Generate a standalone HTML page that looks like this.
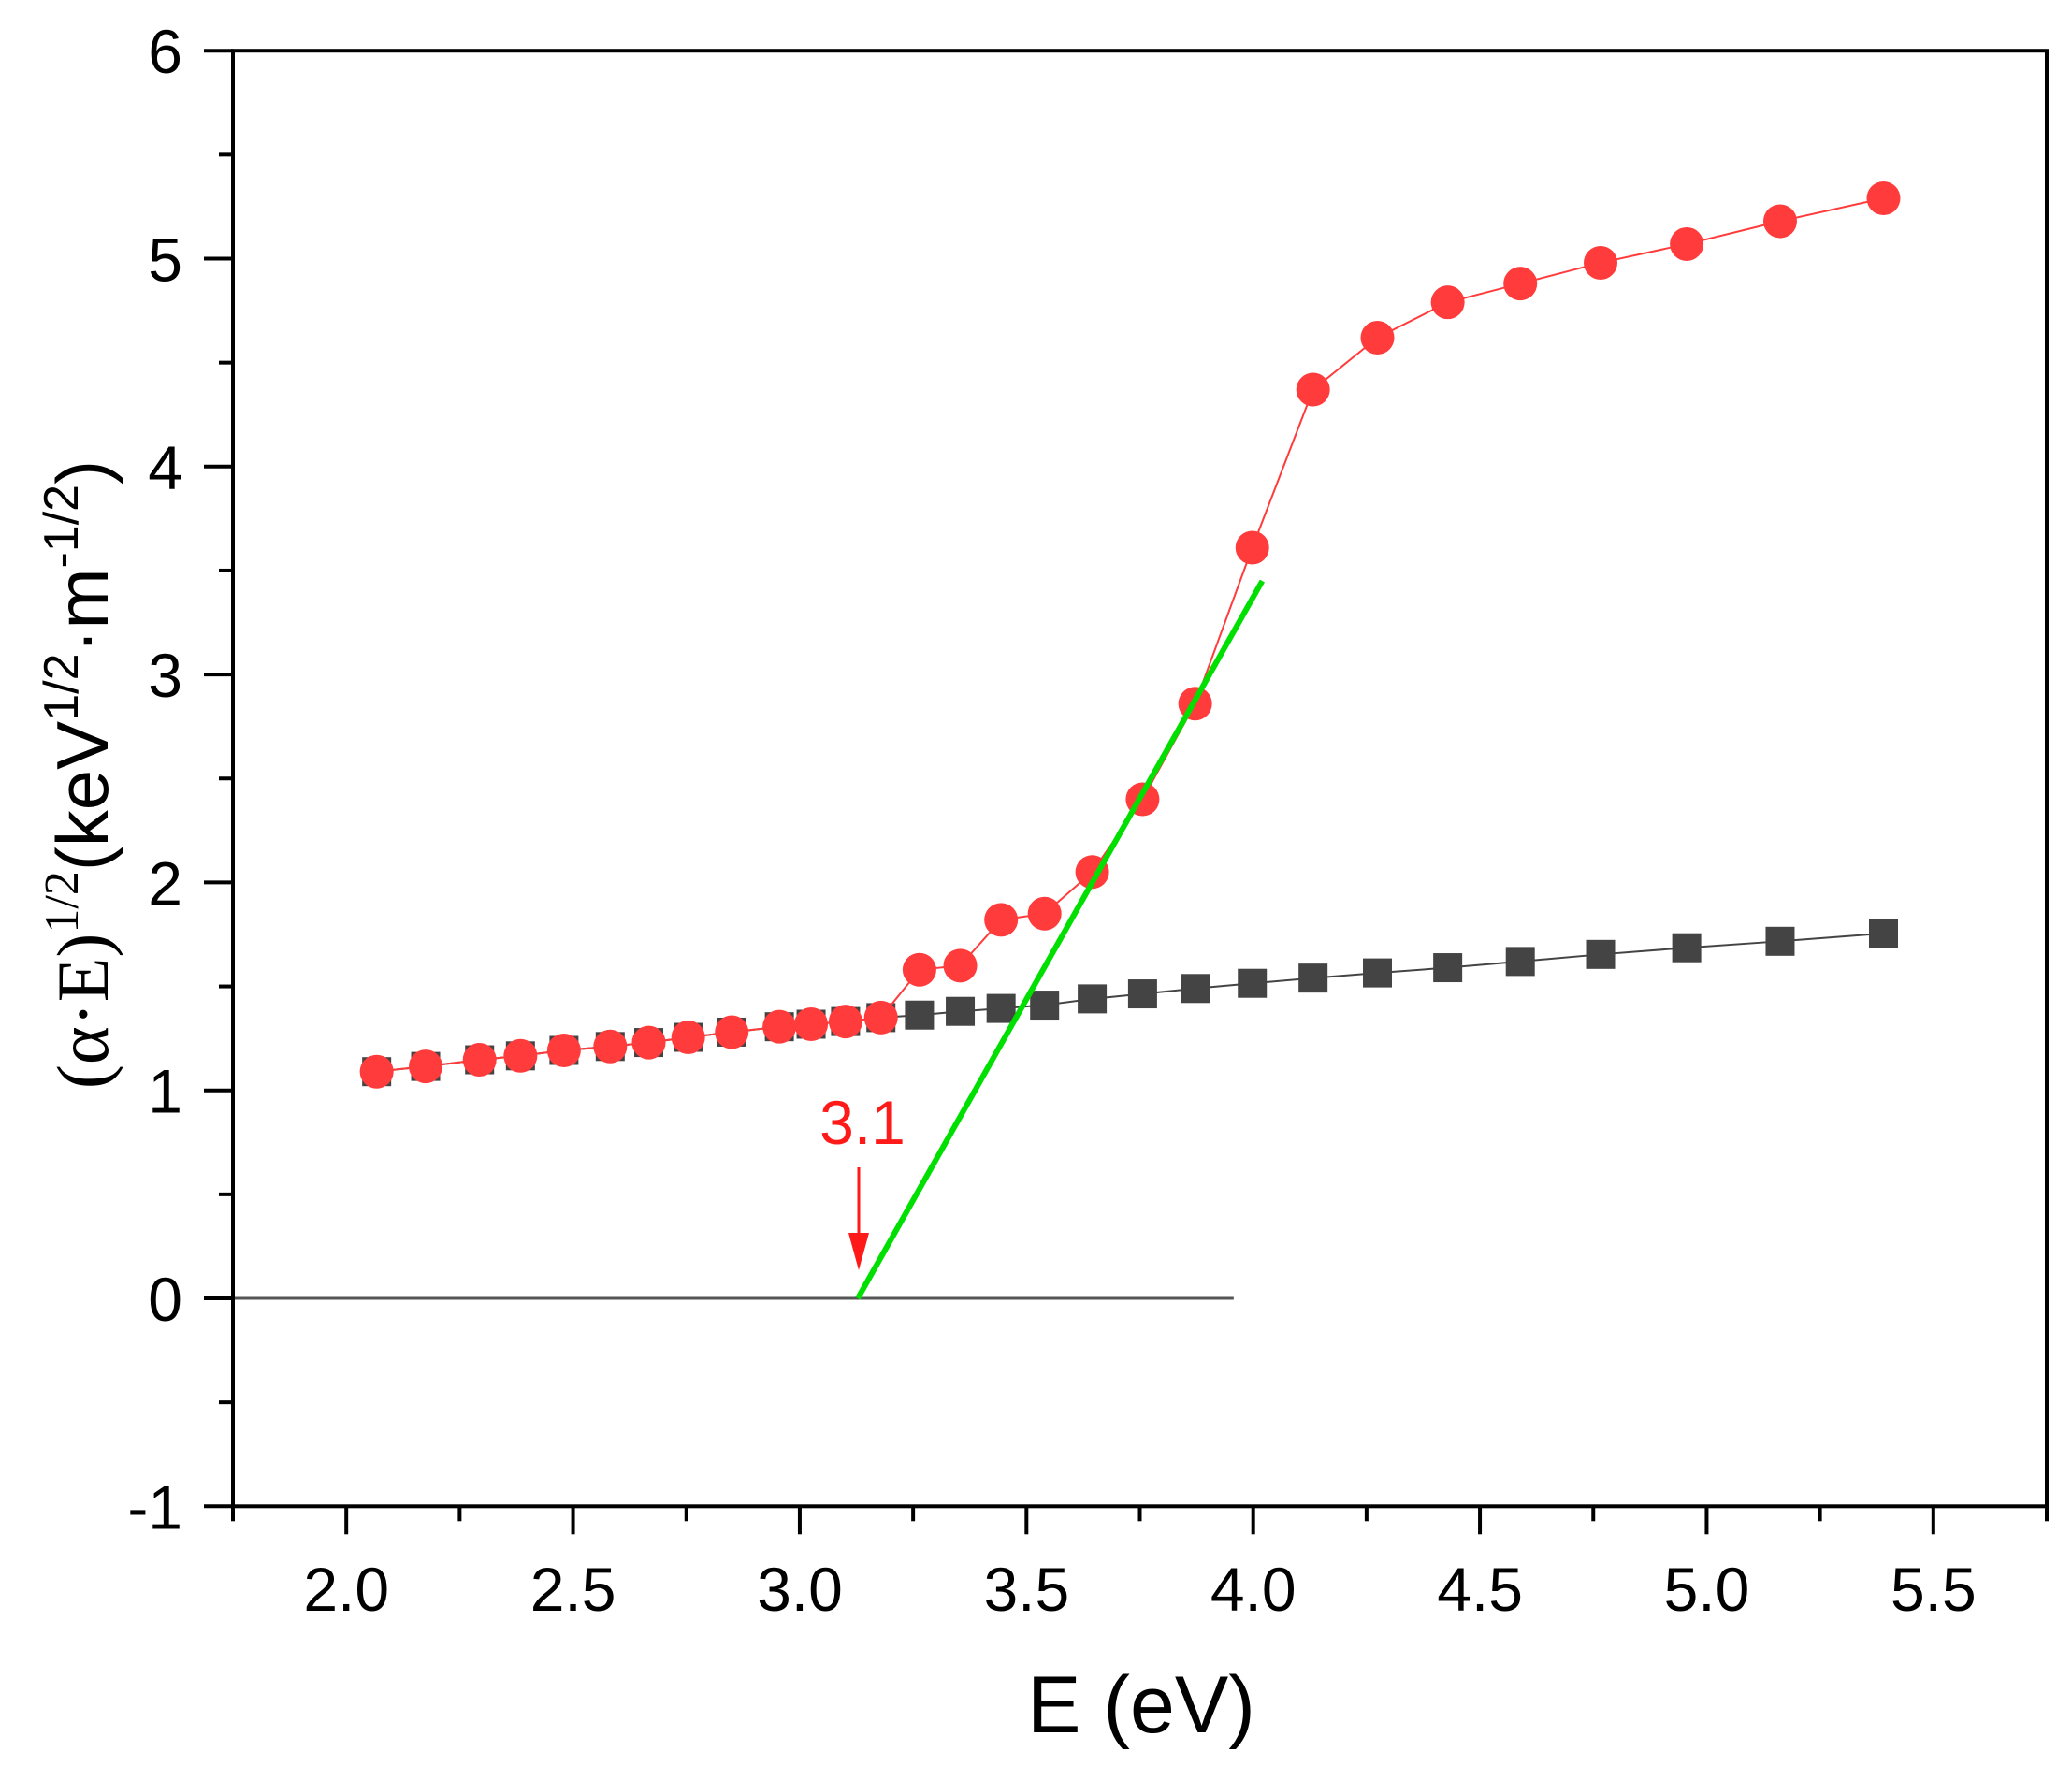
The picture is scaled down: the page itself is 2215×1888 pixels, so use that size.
<!DOCTYPE html>
<html><head><meta charset="utf-8"><style>
html,body{margin:0;padding:0;background:#fff;}
svg{display:block;font-family:"Liberation Sans",Arial,sans-serif;}
</style></head><body>
<svg id="chart" width="2215" height="1888" viewBox="0 0 2215 1888" xmlns="http://www.w3.org/2000/svg">
<g id="grid"></g>
<g id="series"></g>
<g id="axes"></g>
</svg>
<script>
const energyX = [2.067,2.175,2.294,2.384,2.48,2.582,2.667,2.754,2.85,2.955,3.025,3.101,3.179,3.264,3.354,3.444,3.54,3.645,3.756,3.872,3.998,4.132,4.274,4.429,4.589,4.766,4.956,5.162,5.39];
const redValues = [1.09,1.115,1.147,1.166,1.192,1.211,1.23,1.255,1.28,1.306,1.318,1.331,1.35,1.58,1.60,1.82,1.85,2.05,2.40,2.86,3.61,4.37,4.62,4.79,4.88,4.98,5.07,5.18,5.29];
const blackValues = [1.09,1.115,1.147,1.166,1.192,1.211,1.23,1.255,1.28,1.306,1.318,1.331,1.35,1.362,1.38,1.394,1.41,1.44,1.464,1.49,1.515,1.54,1.565,1.59,1.62,1.654,1.686,1.717,1.755];
const fitLine = [[3.128,0],[4.02,3.45]];
const baseline = [[1.75,0],[3.957,0]];
const xTicks = [2.0,2.5,3.0,3.5,4.0,4.5,5.0,5.5];
const yTicks = [-1,0,1,2,3,4,5,6];

const X0=249, X1=2188, XMIN=1.75, XMAX=5.75;
const Y0=1388, YU=222.3;
const sx = v => X0 + (v-XMIN)/(XMAX-XMIN)*(X1-X0);
const sy = v => Y0 - v*YU;
const NS="http://www.w3.org/2000/svg";
function mk(tag, attrs, parent){const e=document.createElementNS(NS,tag);for(const k in attrs)e.setAttribute(k,attrs[k]);parent.appendChild(e);return e;}
const ser=document.getElementById('series'), ax=document.getElementById('axes');

let bl=mk('line',{x1:sx(baseline[0][0]),y1:sy(0),x2:sx(baseline[1][0]),y2:sy(0),stroke:'#555','stroke-width':3},ser);



let bp=mk('polyline',{points:energyX.map((x,i)=>sx(x)+','+sy(blackValues[i])).join(' '),fill:'none',stroke:'#444','stroke-width':2},ser);


energyX.forEach((x,i)=>{
  const r=mk('rect',{x:sx(x)-15.5,y:sy(blackValues[i])-15.5,width:31,height:31,fill:'#444'},ser);
  
  
});
let rp=mk('polyline',{points:energyX.map((x,i)=>sx(x)+','+sy(redValues[i])).join(' '),fill:'none',stroke:'#ff3b3b','stroke-width':2},ser);


energyX.forEach((x,i)=>{
  const c=mk('circle',{cx:sx(x),cy:sy(redValues[i]),r:18,fill:'#ff3b3b'},ser);
  
  
});
let gl=mk('line',{x1:sx(fitLine[0][0]),y1:sy(fitLine[0][1]),x2:sx(fitLine[1][0]),y2:sy(fitLine[1][1]),stroke:'#00e000','stroke-width':6},ser);



let ar=mk('line',{x1:918,y1:1248,x2:918,y2:1325,stroke:'#ff1a1a','stroke-width':3},ser);


let ah=mk('polygon',{points:'907,1318 929,1318 918,1358',fill:'#ff1a1a'},ser);


let at=mk('text',{x:922,y:1223,'font-size':66,fill:'#ff1a1a','text-anchor':'middle'},ser);
at.textContent='3.1';



const YT=sy(6), YB=sy(-1);
let fr=mk('rect',{x:X0,y:YT,width:X1-X0,height:YB-YT,fill:'none',stroke:'#000','stroke-width':4},ax);


yTicks.forEach(v=>{
  const t=mk('line',{x1:X0-31,y1:sy(v),x2:X0,y2:sy(v),stroke:'#000','stroke-width':4},ax);
  
  
  if(v<6){const m=mk('line',{x1:X0-15,y1:sy(v+0.5),x2:X0,y2:sy(v+0.5),stroke:'#000','stroke-width':4},ax);
  
  }
  const l=mk('text',{x:195,y:sy(v)+24,'font-size':66,'text-anchor':'end',fill:'#000'},ax);
  l.textContent=String(v);
  
  
});
xTicks.forEach(v=>{
  const t=mk('line',{x1:sx(v),y1:YB,x2:sx(v),y2:YB+30,stroke:'#000','stroke-width':4},ax);
  
  
  const l=mk('text',{x:sx(v),y:1722,'font-size':66,'text-anchor':'middle',fill:'#000'},ax);
  l.textContent=v.toFixed(1);
  
  
});
for(let v=1.75; v<=5.76; v+=0.5){
  const m=mk('line',{x1:sx(v),y1:YB,x2:sx(v),y2:YB+16,stroke:'#000','stroke-width':4},ax);
  
  
}
let xt=mk('text',{x:1220,y:1852,'font-size':86,'text-anchor':'middle',fill:'#000'},ax);
xt.textContent='E (eV)';


let yt=mk('text',{x:0,y:0,'font-size':78,'text-anchor':'middle',fill:'#000',transform:'translate(115,828) rotate(-90)'},ax);
yt.innerHTML='<tspan font-family="Liberation Serif, serif">(α·E)</tspan><tspan font-family="Liberation Serif, serif" font-size="52" dy="-32">1/2</tspan><tspan dy="32">(keV</tspan><tspan font-size="52" dy="-32">1/2</tspan><tspan dy="32">·m</tspan><tspan font-size="52" dy="-32">-1/2</tspan><tspan dy="32">)</tspan>';


</script>
</body></html>
